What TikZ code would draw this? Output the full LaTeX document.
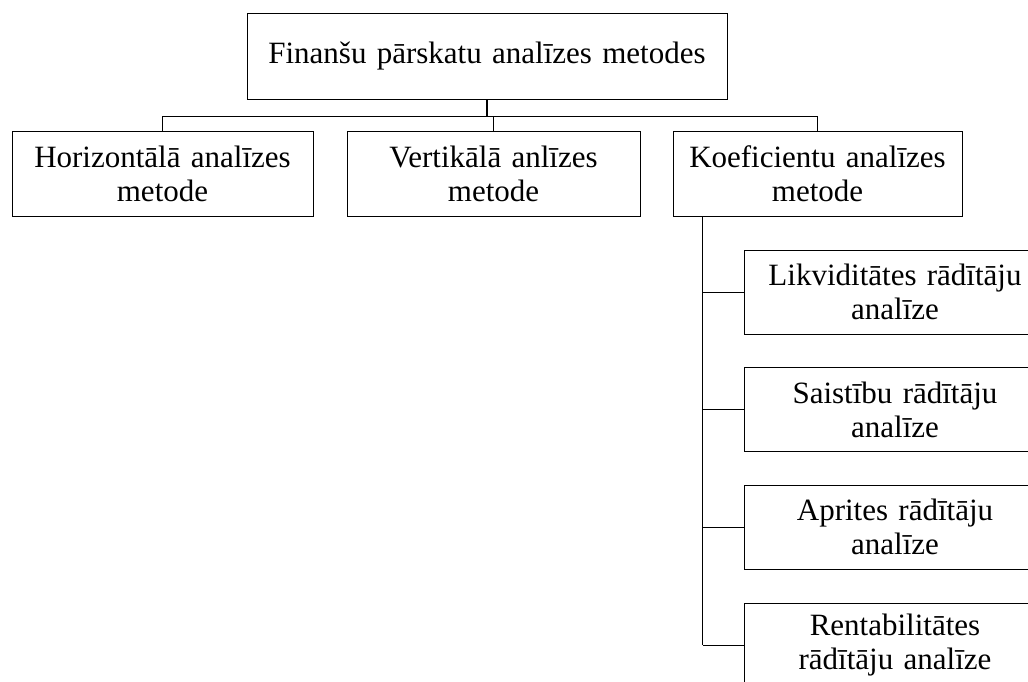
\documentclass[tikz,border=0pt]{standalone}
\usepackage{fontspec}
\setmainfont{Liberation Serif}
\usepackage{tikz}

\tikzset{
    metbox/.style={rectangle, draw, line width=0.8pt, align=center,
        inner xsep=4pt, inner ysep=0pt, minimum height=85pt,
        font=\fontsize{31}{34}\selectfont},
    link/.style={line width=0.8pt},
    trunklink/.style={line width=1.4pt}
}

\begin{document}
\begin{tikzpicture}[x=1pt,y=-1pt]
    \useasboundingbox (0,0) rectangle (1028,681);
    \clip (0,0) rectangle (1028,681);
    % top level
    \draw (487,56) node[metbox, text width=472pt, minimum height=86pt] (top) {Finanšu pārskatu analīzes metodes};
    % methods
    \draw (162.5,173.5) node[metbox, text width=293pt] (hor) {Horizontālā analīzes\\ metode};
    \draw (493.5,173.5) node[metbox, text width=285pt] (ver) {Vertikālā anlīzes\\ metode};
    \draw (817.5,173.5) node[metbox, text width=281pt] (koef) {Koeficientu analīzes\\ metode};
    % ratio groups
    \foreach \i/\y/\txt in {1/292/{Likviditātes rādītāju\\ analīze},
                            2/409.5/{Saistību rādītāju\\ analīze},
                            3/527/{Aprites rādītāju\\ analīze},
                            4/645/{Rentabilitātes\\ rādītāju analīze}}{
        \draw (895,\y) node[metbox, text width=294pt, minimum height=84pt] (rad\i) {\txt};
    }
    % connectors
    \coordinate (bus) at ([yshift=-17pt]top.south);
    \draw[trunklink] (top.south) -- (bus);
    \draw[link] (bus) -| (hor.north);
    \draw[link] (bus) -| (ver.north);
    \draw[link] (bus) -| (koef.north);
    \coordinate (trunk) at ([xshift=30pt]koef.south west);
    \draw[trunklink] (trunk) -- (trunk |- rad4.west);
    \foreach \i in {1,2,3,4}{
        \draw[link] (trunk |- rad\i.west) -- (rad\i.west);
    }
\end{tikzpicture}
\end{document}
